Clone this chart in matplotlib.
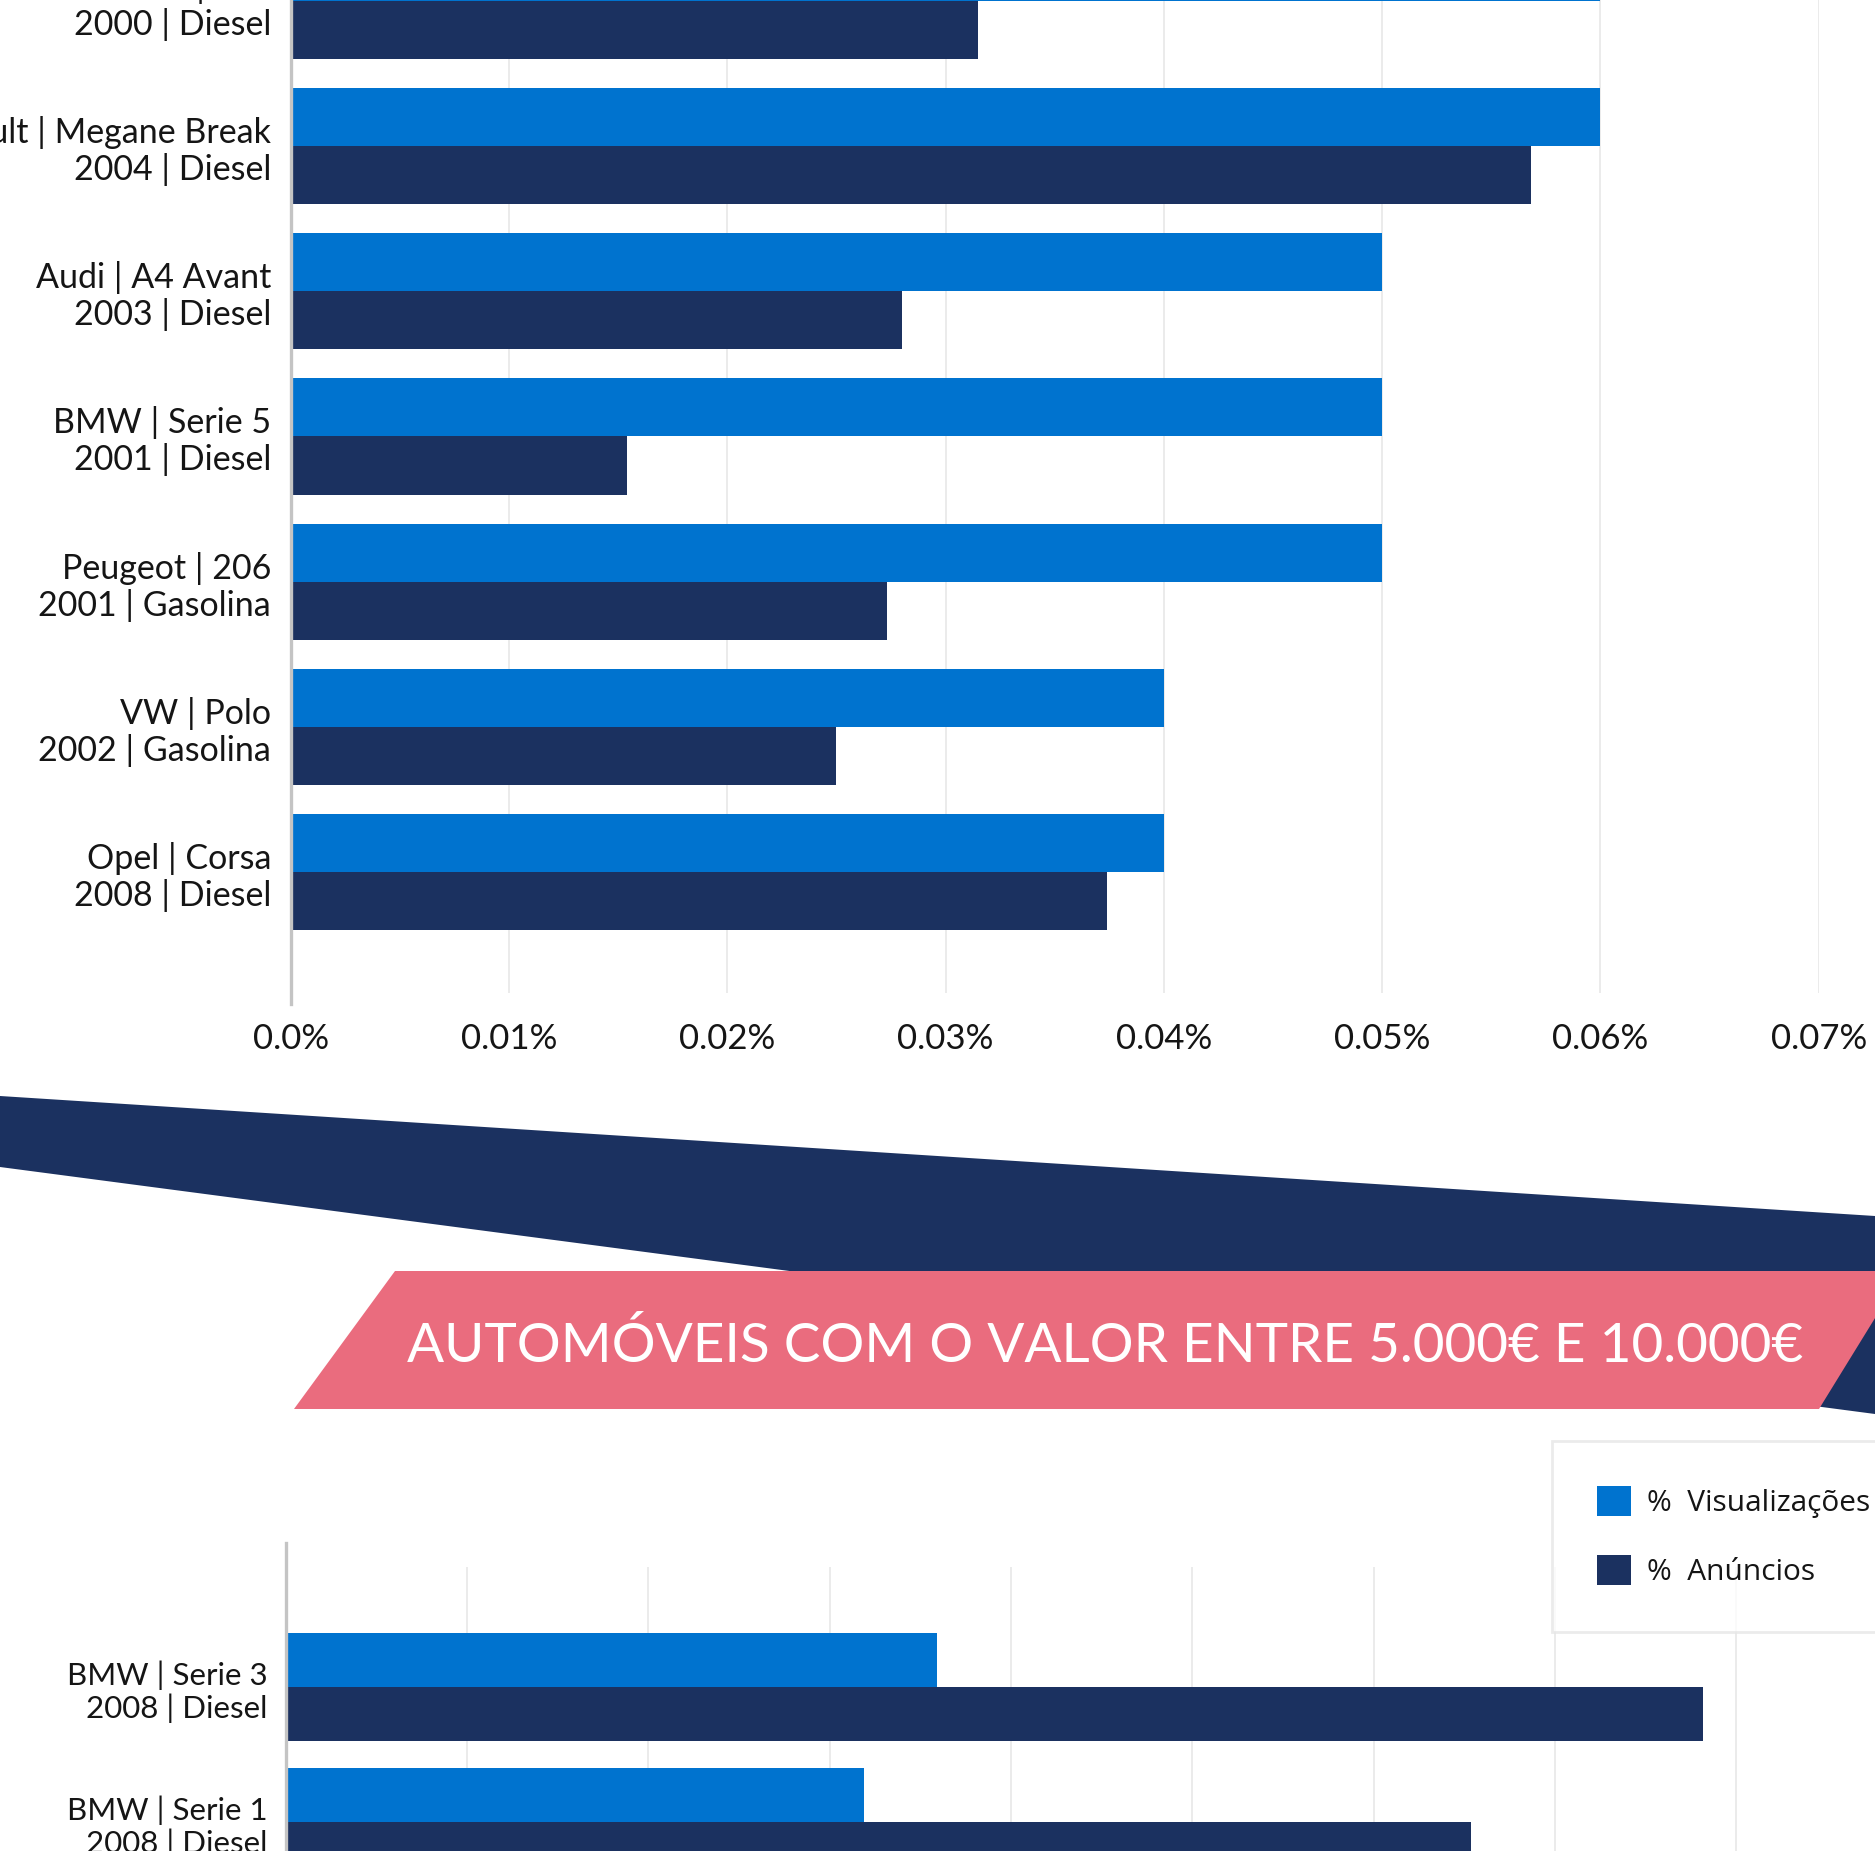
import numpy as np
import matplotlib.pyplot as plt
from matplotlib.patches import Polygon, Patch

W, H = 1875, 1851

# top chart: cars up to 5.000 EUR (first group is cut at the top of the picture)
top_labels = ["Renault | Clio\n2000 | Diesel",
              "Renault | Megane Break\n2004 | Diesel",
              "Audi | A4 Avant\n2003 | Diesel",
              "BMW | Serie 5\n2001 | Diesel",
              "Peugeot | 206\n2001 | Gasolina",
              "VW | Polo\n2002 | Gasolina",
              "Opel | Corsa\n2008 | Diesel"]
top_views = [0.060, 0.060, 0.050, 0.050, 0.050, 0.040, 0.040]
top_ads = [0.0315, 0.0568, 0.0280, 0.0154, 0.0273, 0.0250, 0.0374]
top_ticks = [0.0, 0.01, 0.02, 0.03, 0.04, 0.05, 0.06, 0.07]
top_tick_labels = ["0.0%", "0.01%", "0.02%", "0.03%", "0.04%", "0.05%", "0.06%", "0.07%"]

# bottom chart: cars between 5.000 and 10.000 EUR
bottom_labels = ["BMW | Serie 3\n2008 | Diesel",
                 "BMW | Serie 1\n2008 | Diesel"]
bottom_views = [0.0359, 0.0319]
bottom_ads = [0.0782, 0.0654]
bottom_ticks = [0.01, 0.02, 0.03, 0.04, 0.05, 0.06, 0.07, 0.08]

title = "AUTOMÓVEIS COM O VALOR ENTRE 5.000€ E 10.000€"
legend_labels = ["%  Visualizações", "%  Anúncios"]

LIGHT = "#0073cf"
NAVY = "#1b3160"
PINK = "#ea6c7e"
GRID = "#e8e8e8"
SPINE = "#c4c4c4"
TXT = "#151515"

plt.rcParams['font.family'] = ['Lato', 'DejaVu Sans']


def px_axes(fig, left, top, right, bottom):
    # axes placed by pixel box (origin at top-left of picture)
    return fig.add_axes([left / W, 1 - bottom / H, (right - left) / W, (bottom - top) / H])


def style_axes(ax):
    for s in ['top', 'right', 'bottom']:
        ax.spines[s].set_visible(False)
    ax.spines['left'].set_color(SPINE)
    ax.spines['left'].set_linewidth(2.4)
    ax.tick_params(axis='both', length=0)
    ax.set_facecolor('none')


fig = plt.figure(figsize=(W / 100, H / 100), dpi=100)

# navy ribbon and pink title banner (decoration)
fig.patches.append(Polygon([(0, 1 - 1096 / H), (1, 1 - 1216 / H), (1, 1 - 1414 / H), (0, 1 - 1167 / H)],
                           closed=True, transform=fig.transFigure, facecolor=NAVY, edgecolor='none'))
fig.patches.append(Polygon([(395 / W, 1 - 1271 / H), (1904 / W, 1 - 1271 / H),
                            (1819 / W, 1 - 1409 / H), (294 / W, 1 - 1409 / H)],
                           closed=True, transform=fig.transFigure, facecolor=PINK, edgecolor='none'))

t = fig.text(1105 / W, 1 - 1345 / H, title, color='white', fontsize=40,
             ha='center', va='center')
fig.canvas.draw()
bb = t.get_window_extent()
t.set_fontsize(40 * 1397 / bb.width)

# top chart
ax1 = px_axes(fig, 290.6, 0, 1818.8, 1004.5)
style_axes(ax1)
y1 = np.arange(len(top_labels))
ax1.vlines(top_ticks[1:], -0.01, 6.83, color=GRID, lw=1.2, zorder=0)
ax1.barh(y1 - 0.2, top_views, height=0.4, color=LIGHT, zorder=2)
ax1.barh(y1 + 0.2, top_ads, height=0.4, color=NAVY, zorder=2)
ax1.set_xlim(0, 0.07)
ax1.set_ylim(6.91, -0.004)
ax1.set_yticks(y1)
ax1.set_yticklabels(top_labels, fontsize=24.5, color=TXT, linespacing=1.15)
ax1.set_xticks(top_ticks)
ax1.set_xticklabels(top_tick_labels, fontsize=25, color=TXT)
ax1.tick_params(axis='y', pad=14)
ax1.tick_params(axis='x', pad=13)

# bottom chart
ax2 = px_axes(fig, 285.8, 1542.6, W, H)
style_axes(ax2)
y2 = np.arange(len(bottom_labels))
ax2.vlines(bottom_ticks, -0.894, 1.3, color=GRID, lw=1.2, zorder=0)
ax2.barh(y2 - 0.2, bottom_views, height=0.4, color=LIGHT, zorder=2)
ax2.barh(y2 + 0.2, bottom_ads, height=0.4, color=NAVY, zorder=2)
ax2.set_xlim(0, 0.08766)
ax2.set_ylim(1.212, -1.071)
ax2.set_yticks(y2)
ax2.set_yticklabels(bottom_labels, fontsize=22.5, color=TXT, linespacing=1.16)
ax2.set_xticks([])
ax2.tick_params(axis='y', pad=13)

handles = [Patch(facecolor=LIGHT), Patch(facecolor=NAVY)]
leg = fig.legend(handles, legend_labels, loc='upper left',
                 bbox_to_anchor=(1552 / W, 1 - 1441 / H), borderaxespad=0,
                 frameon=True, fancybox=False, edgecolor='#e6e6e6',
                 borderpad=1.5, handlelength=1.16, handleheight=1.2,
                 handletextpad=0.52, labelspacing=1.22,
                 prop={'family': ['Open Sans', 'DejaVu Sans'], 'size': 21.5})
leg.get_frame().set_linewidth(2)
for txt in leg.get_texts():
    txt.set_color(TXT)

fig.savefig('out.png', dpi=100)
